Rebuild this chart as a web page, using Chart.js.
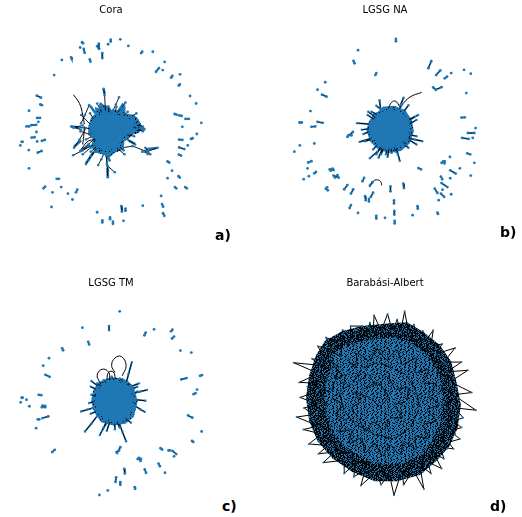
<!DOCTYPE html>
<html><head><meta charset="utf-8">
<script src="https://cdn.jsdelivr.net/npm/chart.js@4"></script>
<style>
html,body{margin:0;padding:0;background:#fff;width:522px;height:517px;overflow:hidden}
canvas{position:absolute}
.tag{position:absolute;font:bold 14px "DejaVu Sans";color:#000;line-height:16px}
</style></head><body>
<canvas id="a" width="222" height="250" style="left:0;top:0"></canvas>
<canvas id="b" width="222" height="250" style="left:274px;top:0"></canvas>
<canvas id="c" width="222" height="244" style="left:0;top:273px"></canvas>
<canvas id="d" width="222" height="244" style="left:274px;top:273px"></canvas>
<div class="tag" style="left:215px;top:227px">a)</div>
<div class="tag" style="left:500px;top:224px">b)</div>
<div class="tag" style="left:222px;top:498px">c)</div>
<div class="tag" style="left:490px;top:498px">d)</div>
<script>
const titles = ["Cora","LGSG NA","LGSG TM","Barabási-Albert"];

// node positions: each entry is one connected piece [x,y,x,y,...]
const coraIsolated = [[243,128,246,131],[237,144],[248,148,251,160],[290,140,296,148],[295,132,295,147],[324,134],[332,120,332,126],[362,119],[387,139],[427,161,430,157],[463,157],[500,188],[473,218,482,207],[494,213],[520,236,524,231],[548,226],[544,260,547,257],[579,292],[598,315],[306,161,306,176],[267,180,269,187],[209,174,211,179],[180,182],[156,228],[102,291,115,297],[113,318,118,320],[78,337],[103,359,112,359],[107,371],[70,385,78,385],[85,381,100,380],[101,402],[86,419,95,418],[118,429,127,426],[103,431],[55,432,58,432],[51,443],[77,457],[105,465,117,460],[78,513],[164,545,171,545],[123,574,128,569],[178,570],[151,586],[199,590],[224,586,228,578],[213,608],[148,631],[290,647],[306,672,306,678],[330,663,330,668],[339,676,339,682],[372,673],[365,628,367,645],[378,636,378,642],[432,627],[489,597],[492,622,495,630],[495,650,499,658],[509,492,514,495],[523,520],[509,543],[543,537,547,541],[532,570,536,574],[564,570,569,574],[531,347,537,349],[545,351,553,353],[565,362,575,362],[555,386],[614,374],[600,408],[582,423,587,421],[545,425,555,426],[572,443],[545,449,561,454],[544,471,551,474]];
const coraCore = [262,385,270,360,285,345,283,325,295,330,298,310,315,322,325,320,335,335,360,335,378,318,378,345,405,350,418,362,432,388,420,405,400,410,385,425,375,430,372,455,345,465,330,478,305,470,285,465,270,445,278,425,262,410,262,385];
const coraInner = [275,380,295,350,335,345,375,355,405,370,410,395,375,415,355,445,325,460,298,450,280,425,275,380];
const coraSpokes = [[310,270,313,290,316,340],[358,296,348,318,340,335],[265,320,252,350,240,375],[378,312,365,330,350,345],[290,315,298,330,305,345],[325,325,327,345],[209,385,235,388,270,392],[218,388,240,395],[218,450,235,425,255,390],[240,460,262,440,285,420],[215,473,245,458,280,440],[255,500,270,475,290,450],[293,503,303,485,310,470],[323,540,322,505,318,475],[345,525,322,505],[478,450,445,462,400,445,370,450],[440,450,455,470],[430,462,445,465],[432,400,415,392,400,385],[432,385,410,380],[408,440,385,425],[412,345,395,355],[385,340,370,355],[350,325,345,345],[268,345,280,365],[240,350,270,380],[238,400,270,410],[255,425,275,415],[245,470,270,450],[262,488,282,462],[215,388,245,382],[375,470,350,450],[405,415,380,410],[435,395,410,398],[358,445,372,458],[270,462,290,445],[320,500,320,470]];
const coraFuzz = [[209,385,238,388],[300,315,310,340],[372,315,355,340],[425,385,440,395],[440,455,475,451],[440,458,450,472],[218,447,240,428],[235,462,268,440],[255,498,280,462],[408,438,388,428],[330,492,320,470],[268,322,285,345],[310,270,313,285],[322,510,323,540]];
const coraCurves = [[216,288,235,315,245,350,250,378],[240,455,262,430,285,425],[250,385,248,415,245,440]];

const naIsolated = [[406,118,406,125],[288,152],[274,185,277,192],[342,228,345,222],[186,250],[162,273],[176,288,190,294],[140,338],[106,373,113,373],[162,371,178,374],[143,386,155,385],[255,417,272,402],[258,412,268,412],[152,437],[107,443],[90,462],[133,495,143,491],[131,513],[152,528,157,524],[135,537],[119,546],[200,516,212,518],[203,520,209,514],[212,535,228,541],[216,541,224,534],[188,575,194,580],[192,571],[245,577,255,564],[266,590,273,577],[302,552,307,542],[325,566,333,555],[328,600,335,587],[310,598,312,610],[322,606,322,614],[389,568,389,583],[429,560,431,573],[262,634,266,625],[288,649],[400,611,400,620],[401,643,401,654],[402,673,402,681],[345,658,345,666],[372,664],[458,656],[473,628,474,636],[535,648,537,652],[539,610],[527,575,535,588],[546,590,556,600],[551,578],[578,592],[548,558,566,570],[546,538,550,546],[575,543],[575,519,592,529],[605,513],[639,535],[650,496],[553,492,557,498],[548,496,558,492],[574,478],[628,467,637,470],[476,512,484,516],[612,420,632,423],[645,420],[630,405,650,405],[654,390],[610,358,620,357],[625,283],[618,212],[639,224],[578,222],[558,238,565,233],[531,228,544,214],[507,207,516,186],[522,266,530,273,548,265]];
const naCore = [322,370,338,345,350,340,365,325,400,322,435,335,455,365,462,400,448,438,422,460,385,466,350,455,325,430,314,395,322,370];
const naInner = [332,375,345,350,370,337,400,335,430,347,448,372,450,400,438,430,415,448,385,453,355,443,335,420,326,395,332,375];
const naSpokes = [[430,297,420,320],[355,305,358,330],[345,322,362,335],[320,340,345,360],[285,375,325,378],[305,408,325,400],[293,432,335,420],[325,482,348,462,370,445],[352,480,365,450],[380,478,385,450],[418,490,412,468,405,445],[405,462,400,445],[360,470,368,450],[488,430,465,425,440,420],[470,440,445,425],[475,350,440,370],[470,365,445,380],[465,355,445,365],[445,450,430,440],[335,455,350,440],[470,415,448,410],[345,470,360,445],[393,465,392,450],[412,470,405,450],[300,395,325,392],[318,350,340,365],[310,430,330,425],[445,320,430,340],[425,318,415,335],[330,340,350,350],[440,440,425,430],[375,470,378,455]];
const naCurves = [[486,281,450,295,425,318],[383,330,392,312,405,308,418,325],[325,566,333,555,345,548,358,553,362,565]];

const tmIsolated = [[360,155],[244,205],[327,200,327,212],[262,248,265,256],[181,268,184,274],[140,298],[122,321],[129,349,142,355],[108,410,116,411],[55,419,58,419],[70,425],[52,433],[79,445],[120,443,128,448],[118,448,128,444],[105,485,110,485],[120,481,138,476],[100,512],[150,585,158,578],[352,588,362,570],[350,585,358,580],[420,603,425,612],[416,606,426,606],[374,636,376,650],[438,638,442,648],[481,620,485,628],[501,648],[487,573,492,577],[512,580,516,580],[524,581,536,591],[529,598],[585,551,589,554],[615,522],[573,473,586,480],[590,408,596,405],[601,394],[552,363,568,359],[610,352,616,350],[549,275],[583,281],[523,238,529,232],[520,216,524,211],[467,210],[437,228,441,220],[347,676,349,662],[362,677,362,685],[407,692,408,697],[323,702],[297,716]];
const tmCore = [277,398,292,372,330,356,372,360,403,382,416,430,404,478,378,498,340,504,302,494,280,462,271,430,277,398];
const tmInner = [288,402,302,382,332,370,368,373,392,392,403,430,392,470,370,488,340,492,310,482,291,457,284,430,288,402];
const tmSpokes = [[398,310,388,345,380,375],[272,368,295,385],[420,375,395,385],[445,395,425,400,405,405],[440,428,410,425],[438,462,425,455,410,445],[380,552,368,522,358,495],[298,533,310,510,320,490],[252,522,272,498,290,475],[240,461,260,455,280,450],[265,435,285,430],[320,520,330,490],[395,495,375,480],[360,510,350,490],[270,385,290,395],[272,410,290,415],[415,400,395,410],[380,375,392,382],[385,372,398,385],[360,360,372,372],[335,355,345,368],[310,365,320,375],[290,375,305,385],[415,385,400,392],[270,468,290,460],[305,520,320,495],[345,515,345,495],[275,450,290,445]];
const tmCurves = [[345,342,335,320,345,298,365,293,380,320,368,352],[298,372,290,350,305,332,325,340,330,365],[320,365,325,342,340,340,347,362]];

const baOuterZigzag = [[300,200,310,235,325,190,335,225,338,167,360,215,380,163,395,215,410,180,420,220,433,155,445,215,462,195,470,235,490,215,495,250,522,213,515,260,550,255,530,285,590,267,555,310,610,310,565,340,630,335,575,370,642,403,585,410,655,457,590,450,615,480,585,490,610,510,575,520,605,545,570,555,585,575,545,570,555,605,525,590,548,635,505,615,515,650,480,625,493,698,460,640,430,685,425,640,400,717,385,650,360,685,345,645,297,687,310,640,275,660,280,620,245,650,245,610,180,617,215,585,165,590,195,565,135,560,175,530,118,516,165,505,97,478,150,470,120,450,165,440,108,418,160,400,130,385,170,375,105,372,165,345,88,312,170,320,145,300,190,305,163,262,205,270,188,235,230,250,240,212,265,240,265,200,300,200]];
const baInnerZigzag = [[240,225,250,260,280,212,290,250,320,205,330,245,355,198,365,240,400,195,408,240,450,205,455,250,490,235,480,270,530,270,505,300,560,315,530,340,585,360,545,385,598,420,555,435,600,480,555,490,590,530,545,525,565,575,520,560,530,610,490,590,490,645,450,605,430,660,410,615,370,665,355,615,310,655,310,610,265,625,275,585,215,590,240,555,165,550,205,525,150,490,190,470,140,430,185,420,145,365,190,375,160,315,205,335,190,265,235,295,240,225],[170,330,200,300,225,340,205,400,165,395,195,450,160,465,205,510,175,535,225,560,210,575,265,590,265,610,330,620,340,650,400,625,420,650,470,620,500,620,525,575,550,560,560,510,585,500,560,450,590,410,555,385,570,345,530,320,520,280,475,270,450,225,405,235,370,215,330,235,280,225,250,255,210,265,170,330]];
const baChords = [[200,300,230,330,215,365,250,345,240,395,205,420,245,440,215,470,255,490,225,525,270,515,260,560,300,540,310,590,340,555,365,600,385,560,420,595,430,550,470,580,465,535,510,545,490,500,535,490,500,455,545,440,505,410,535,375,490,375,510,330,465,345,470,295,425,320,410,270,375,305,345,265,325,310,285,280,280,330,255,300],[290,370,320,345,345,385,380,350,405,395,445,385,440,430,400,440,430,480,385,480,370,520,335,490,310,525,290,480,265,450,300,430,275,400,330,420,355,450,385,415,350,370,300,395],[230,400,270,375,300,330,350,310,400,330,440,350,470,400,480,450,450,510,400,545,340,530,280,500,245,460,230,400]];
const baBody = [185,245,240,215,300,200,380,192,440,188,492,218,542,258,578,308,594,370,608,440,598,512,572,568,532,612,482,654,410,674,340,674,268,644,208,604,162,552,136,490,126,420,136,350,158,288,185,245];
const baInner = [215,280,265,255,330,240,400,235,465,258,510,295,540,345,550,420,545,495,520,550,480,595,420,622,345,622,290,595,235,560,198,505,185,430,190,355,215,280];

const BLUE = "#1f77b4";
const tiles = {
  dense: ["##+.###.##+####.###+#.##","#..###+.###.##..####.###",".###.#####.##+.##+.#####","###+.##.###.####..###.##","#.####..#+.###.###+.####","##+.##.####.##+.###.##.#",".####.###.##+.####..###.","##.###.#.###.##.###.####","####+.###.##+####.#.##.#","#.##.####..###.##+.####.",".####.##.###.##.####.###","##.###+.####.####.#.##.+","####.###.#.###.###.####.",".#.####.##+.###.##.#.###","###.##+####.##.###+.###.","#.####.###..###.#.####.#","###.###.#.#####.##.##.##","##..###.###.##.###.#.###","+###.#.####+.###.####.#.","###.###..##.###.##.##.##",".#.####.###.##+.####.###","##.##+.###.####..#.###.#","#.###.####..##.###.##+.#","###.##.#.#####.#.###.###"],
  sparse: ["#...##.#...##.....#..#..","..##...#..#...##.#...##.","#.#...##...#.#...#...#..","##...#...##...#....##...",".#.##...#.#.#...#.#...##","#..#...##..#.#..#...##..","..##.#...#.....#.#.#...#","#...#.#.#..##...##...#..",".##.#...#.#..#....##...#","#...#..#..##....#...##..",".#.#...#.#..#...##.#...#","#..#.#...##...#.#....##.",".#...#.#...##...#..#....","#.##...#.#..#..#...##.#.","..#..#..##...#.#.#....##","#..#.#.#.#...#...#..#..#","#...#...##.#...#...##...","..##.#.#...#.##.#....#.#","#.....#..#....#...##...#",".#.#.##...##.#...#...##.","#...#...#....##.#..#....","..#..#.#..##....#.##.#..",".#.##....#...#.#.....#.#","#....#.#...#.##..#.#...."],
  rim: ["##################","####.#######.#####","##########.#######",".######.##########","#########.#####.##","###.##############","#########.#.######","#.#######.#####.##","#####.############","##########.#####.#","###.#####.########","#########.######.#","#.################","#####.#####.######","##########.#######","####.###.#####.###","#.###########.####","###########.######"]
};
function pattern(rows, blue, mid, dark){
  const cv=document.createElement("canvas");cv.width=rows[0].length;cv.height=rows.length;
  const g=cv.getContext("2d");
  rows.forEach((r,y)=>[...r].forEach((ch,x)=>{g.fillStyle=ch==="#"?blue:ch==="+"?mid:dark;g.fillRect(x,y,1,1);}));
  return g.createPattern(cv,"repeat");
}
function pairs(flat){const out=[];for(let i=0;i<flat.length;i+=2)out.push({x:flat[i],y:flat[i+1]});return out;}
function joined(pieces){const out=[];pieces.forEach(p=>{out.push(...pairs(p));out.push({x:null,y:null});});return out;}

function nodes(pieces,r,lw){return {data:joined(pieces),showLine:true,spanGaps:false,borderColor:"#000",borderWidth:lw,pointRadius:r,pointBorderWidth:0,pointBackgroundColor:BLUE,order:1};}
function halo(pieces,w){return {data:joined(pieces),showLine:true,spanGaps:false,borderColor:BLUE,borderWidth:w,pointRadius:0,order:2};}
function curve(pieces){return {data:joined(pieces),showLine:true,spanGaps:false,borderColor:"#000",borderWidth:1,tension:0.45,pointRadius:0,order:1};}
function area(flat,fillStyle,order){return {data:pairs(flat),showLine:true,fill:"shape",backgroundColor:fillStyle,borderWidth:0,borderColor:"transparent",pointRadius:0,order:order};}

function panel(id,title,xr,yr,datasets){
  new Chart(document.getElementById(id),{type:"scatter",data:{datasets},options:{
    responsive:false,animation:false,events:[],devicePixelRatio:1,
    layout:{padding:0},clip:false,
    scales:{x:{display:false,min:xr[0],max:xr[1]},y:{display:false,reverse:true,min:yr[0],max:yr[1]}},
    plugins:{legend:{display:false},tooltip:{enabled:false},
      title:{display:true,text:title,color:"#000",font:{family:"DejaVu Sans",size:10,weight:"normal",lineHeight:1.2},padding:{top:4,bottom:4}}}
  }});
}
const rim=pattern(tiles.rim,BLUE,BLUE,"#000"), sparse=pattern(tiles.sparse,BLUE,"#000","#000"), dense=pattern(tiles.dense,BLUE,"#000","#000");

panel("a",titles[0],[0,666],[60,750],[area(coraInner,BLUE,3),area(coraCore,rim,4),halo(coraFuzz,2.6),halo(coraIsolated,1.8),nodes(coraIsolated,1.4,0.6),nodes(coraSpokes,1.3,0.9),curve(coraCurves)]);
panel("b",titles[1],[39,705],[60,750],[area(naInner,BLUE,3),area(naCore,rim,4),halo(naSpokes,1.7),halo(naIsolated,1.8),nodes(naIsolated,1.4,0.6),nodes(naSpokes,1.2,0.9),curve(naCurves)]);
panel("c",titles[2],[0,666],[99,771],[area(tmInner,BLUE,3),area(tmCore,rim,4),halo(tmSpokes,1.7),halo(tmIsolated,1.8),nodes(tmIsolated,1.4,0.6),nodes(tmSpokes,1.2,0.9),curve(tmCurves)]);
panel("d",titles[3],[39,705],[99,771],[area(baInner,dense,3),area(baBody,sparse,4),nodes(baChords,1,0.9),nodes(baInnerZigzag,1,1),nodes(baOuterZigzag,1,1)]);
</script>
</body></html>
